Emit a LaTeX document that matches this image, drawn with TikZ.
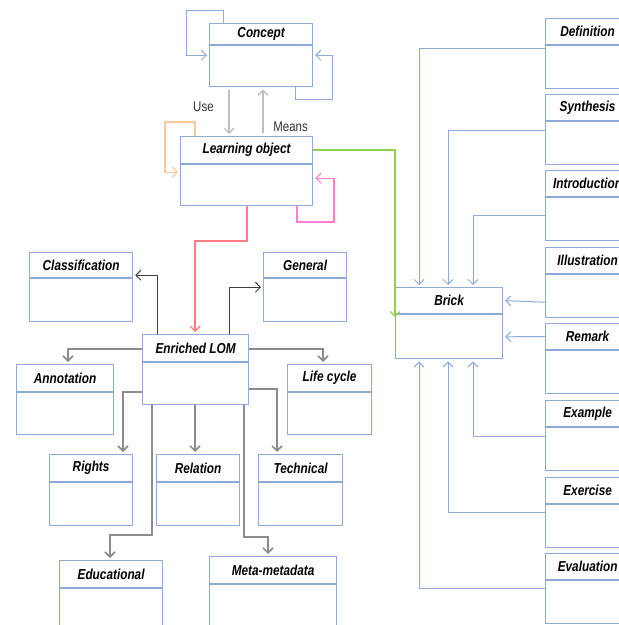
\documentclass[tikz,border=0pt]{standalone}
\usepackage{fontspec}
\setmainfont{Liberation Sans}[FakeStretch=0.82]
\usetikzlibrary{arrows.meta, positioning}

\definecolor{boxblue}{HTML}{8EAADB}
\definecolor{usegray}{HTML}{C4BDBD}
\definecolor{loorange}{HTML}{F9C89B}
\definecolor{lopink}{HTML}{FF7FD0}
\definecolor{logreen}{HTML}{92D050}
\definecolor{lored}{HTML}{FF7C80}
\definecolor{lomdark}{HTML}{404040}
\definecolor{lomgray}{HTML}{8C8C8C}

\begin{document}
\begin{tikzpicture}[
    x=0.5pt, y=-0.5pt,
    head/.style={rectangle, draw=boxblue, line width=0.6pt, anchor=north west, minimum height=13pt, inner sep=0pt, font=\fontsize{7.2}{8}\selectfont\bfseries\itshape},
    body/.style={rectangle, draw=boxblue, line width=0.6pt, minimum height=21.5pt, inner sep=0pt},
    tip/.style={-{Straight Barb[length=2.5pt, width=5pt]}, shorten >=1pt},
    bluearr/.style={tip, draw=boxblue, line width=0.5pt},
    usearr/.style={tip, draw=usegray, line width=0.7pt, shorten <=1.5pt},
    darkarr/.style={tip, draw=lomdark, line width=0.5pt},
    grayarr/.style={tip, draw=lomgray, line width=0.8pt},
    lbl/.style={font=\fontsize{7}{8}\selectfont, text=black!80}
]
\clip (0,0) rectangle (619,625);

% Concept and learning object
\node[head, minimum width=51.5pt, minimum height=10.5pt] (concept) at (209,23) {Concept};
\node[body, minimum width=51.5pt, minimum height=20.5pt, below=0pt of concept] (concept-b) {};
\node[head, minimum width=66pt, minimum height=13.5pt] (lo) at (180,136) {Learning object};
\node[body, minimum width=66pt, minimum height=20.5pt, below=0pt of lo] (lo-b) {};

% Enriched LOM and its categories
\node[head, minimum width=51.5pt, minimum height=12.5pt] (class) at (29,252) {Classification};
\node[body, minimum width=51.5pt, below=0pt of class] (class-b) {};
\node[head, minimum width=41.5pt, minimum height=12.5pt] (gen) at (263,252) {General};
\node[body, minimum width=41.5pt, below=0pt of gen] (gen-b) {};
\node[head, minimum width=53pt, minimum height=13.5pt] (elom) at (142,334) {Enriched LOM};
\node[body, minimum width=53pt, minimum height=21pt, below=0pt of elom] (elom-b) {};
\node[head, minimum width=48.5pt, minimum height=13.5pt] (annot) at (16,364) {Annotation};
\node[body, minimum width=48.5pt, minimum height=21pt, below=0pt of annot] (annot-b) {};
\node[head, minimum width=42pt, minimum height=13.5pt] (life) at (287,364) {Life cycle};
\node[body, minimum width=42pt, minimum height=21pt, below=0pt of life] (life-b) {};
\node[head, minimum width=41.5pt, minimum height=13.5pt] (rights) at (49,454) {Rights};
\node[body, minimum width=41.5pt, below=0pt of rights] (rights-b) {};
\node[head, minimum width=41.5pt, minimum height=13.5pt] (rel) at (156,454) {Relation};
\node[body, minimum width=41.5pt, below=0pt of rel] (rel-b) {};
\node[head, minimum width=42pt, minimum height=13.5pt] (tech) at (258,454) {Technical};
\node[body, minimum width=42pt, below=0pt of tech] (tech-b) {};
\node[head, minimum width=51.5pt, minimum height=13.5pt] (edu) at (59,560) {Educational};
\node[body, minimum width=51.5pt, below=0pt of edu] (edu-b) {};
\node[head, minimum width=63.5pt, minimum height=13.5pt] (meta) at (209,556) {Meta-metadata};
\node[body, minimum width=63.5pt, below=0pt of meta] (meta-b) {};

% Brick and its parts
\node[head, minimum width=53.5pt] (brick) at (395,287) {Brick};
\node[body, minimum width=53.5pt, minimum height=22pt, below=0pt of brick] (brick-b) {};
\node[head, minimum width=42pt] (def) at (545,18) {Definition};
\node[body, minimum width=42pt, below=0pt of def] (def-b) {};
\node[head, minimum width=42pt] (syn) at (545,94) {Synthesis};
\node[body, minimum width=42pt, below=0pt of syn] (syn-b) {};
\node[head, minimum width=42pt] (intro) at (545,170) {Introduction};
\node[body, minimum width=42pt, below=0pt of intro] (intro-b) {};
\node[head, minimum width=42pt] (ill) at (545,247) {Illustration};
\node[body, minimum width=42pt, below=0pt of ill] (ill-b) {};
\node[head, minimum width=42pt] (rem) at (545,323) {Remark};
\node[body, minimum width=42pt, below=0pt of rem] (rem-b) {};
\node[head, minimum width=42pt] (ex) at (545,400) {Example};
\node[body, minimum width=42pt, below=0pt of ex] (ex-b) {};
\node[head, minimum width=42pt] (exc) at (545,477) {Exercise};
\node[body, minimum width=42pt, below=0pt of exc] (exc-b) {};
\node[head, minimum width=42pt] (eval) at (545,553) {Evaluation};
\node[body, minimum width=42pt, below=0pt of eval] (eval-b) {};

% Concept / learning object links
\draw[bluearr] ([xshift=7pt]concept.north west) |- (186,11) |- ([yshift=-5pt]concept-b.north west);
\draw[bluearr] ([xshift=43pt]concept-b.south west) |- (332,100) |- ([yshift=-5pt]concept-b.north east);
\draw[usearr] ([xshift=10pt]concept-b.south west) -- node[lbl, left=4pt, pos=0.4] {Use} ([xshift=24.5pt]lo.north west);
\draw[usearr] ([xshift=41.5pt]lo.north west) -- node[lbl, right=1.5pt, pos=0.2] {Means} ([xshift=27pt]concept-b.south west);
\draw[tip, draw=loorange, line width=0.6pt] ([xshift=7.5pt]lo.north west) |- (165,122) |- ([yshift=-4pt]lo-b.north west);
\draw[tip, draw=lopink, line width=0.6pt] ([xshift=58.5pt]lo-b.south west) |- (334,222) |- ([yshift=-7pt]lo-b.north east);
\draw[tip, draw=logreen, line width=0.6pt] (lo.east) -| ([yshift=-2.5pt]brick-b.north west);
\draw[tip, draw=lored, line width=0.7pt] ([xshift=33.5pt]lo-b.south west) |- (195,241) -- ([xshift=26.5pt]elom.north west);

% Enriched LOM links
\draw[darkarr] ([xshift=7.5pt]elom.north west) |- ([yshift=1.5pt]class-b.north east);
\draw[darkarr] ([xshift=43.5pt]elom.north west) |- ([yshift=-4.5pt]gen-b.north west);
\draw[grayarr] ([yshift=-7.5pt]elom.north west) -| ([xshift=26pt]annot.north west);
\draw[grayarr] ([yshift=-7.5pt]elom.north east) -| ([xshift=18pt]life.north west);
\draw[grayarr] ([yshift=-15pt]elom-b.north west) -| ([xshift=37pt]rights.north west);
\draw[grayarr] ([xshift=26.5pt]elom-b.south west) -- ([xshift=19.5pt]rel.north west);
\draw[grayarr] ([yshift=-13.5pt]elom-b.north east) -| ([xshift=9.5pt]tech.north west);
\draw[grayarr] ([xshift=5pt]elom-b.south west) |- (110,535) -- ([xshift=25.5pt]edu.north west);
\draw[grayarr] ([xshift=51pt]elom-b.south west) |- (268,537) -- ([xshift=29.5pt]meta.north west);

% Brick links
\draw[bluearr] ([yshift=-1.5pt]def-b.north west) -| ([xshift=12pt]brick.north west);
\draw[bluearr] ([yshift=-4.5pt]syn-b.north west) -| ([xshift=26.5pt]brick.north west);
\draw[bluearr] ([yshift=-9pt]intro-b.north west) -| ([xshift=39pt]brick.north west);
\draw[bluearr] ([yshift=-14pt]ill-b.north west) -- (brick.east);
\draw[bluearr] (rem.west) -- (brick-b.east);
\draw[bluearr] ([yshift=-4.5pt]ex-b.north west) -| ([xshift=39pt]brick-b.south west);
\draw[bluearr] ([yshift=-4pt]exc-b.north west) -| ([xshift=26.5pt]brick-b.south west);
\draw[bluearr] ([yshift=-4pt]eval-b.north west) -| ([xshift=12pt]brick-b.south west);

\end{tikzpicture}
\end{document}
